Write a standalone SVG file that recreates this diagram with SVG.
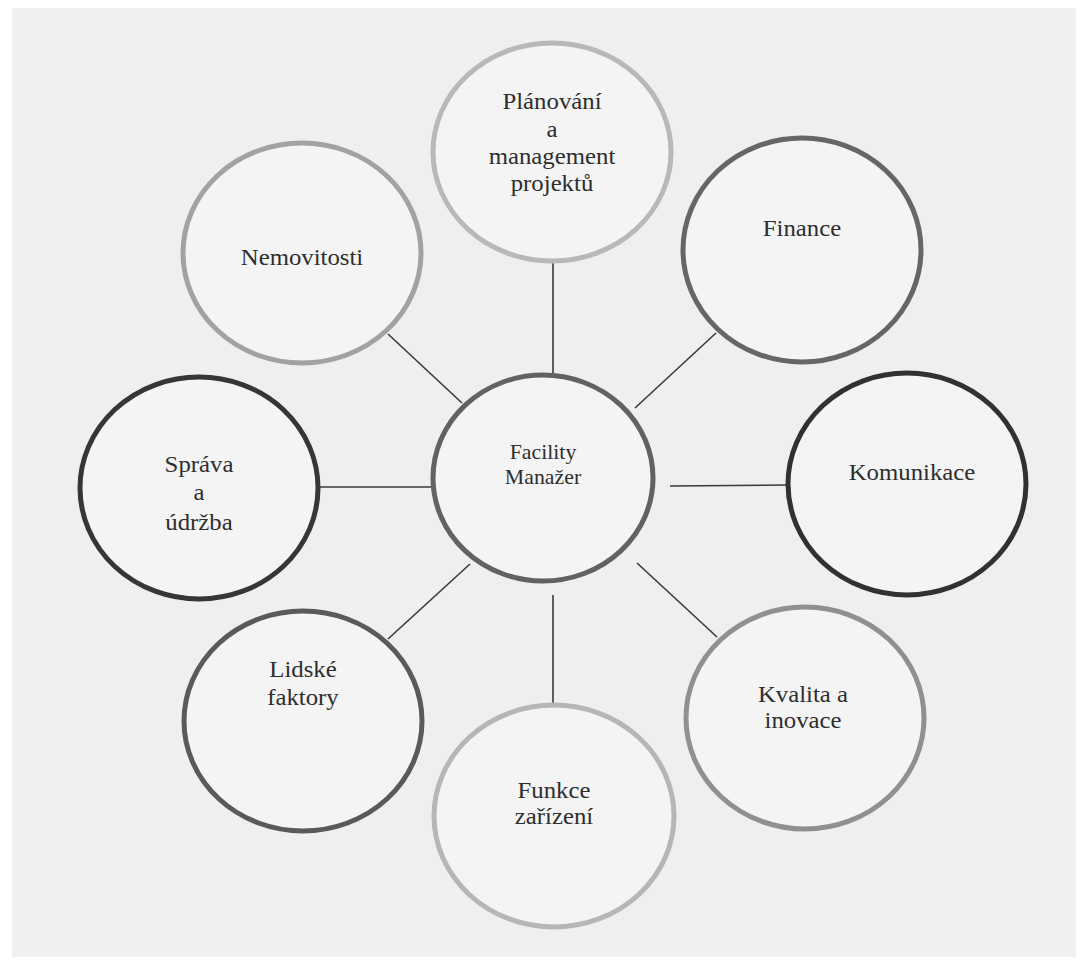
<svg xmlns="http://www.w3.org/2000/svg" width="1079" height="961" viewBox="0 0 1079 961">
<style>
.node ellipse{fill:#f4f4f5;stroke-width:5}
text{font-family:'Liberation Serif',serif;fill:#2e2e2e;text-anchor:middle;font-size:21px}
.conn line{stroke:#3a3a3a;stroke-width:1.6}
</style>
<rect x="0" y="0" width="1079" height="961" fill="#ffffff"/>
<rect x="12" y="8" width="1064" height="949" fill="#efeff1"/>
<g id="connectors" class="conn">
<line x1="553" y1="262" x2="553" y2="373"/>
<line x1="388" y1="334" x2="462" y2="403"/>
<line x1="716" y1="333" x2="635" y2="408"/>
<line x1="318" y1="487" x2="432" y2="487"/>
<line x1="670" y1="486" x2="787" y2="485"/>
<line x1="470" y1="564" x2="388" y2="639"/>
<line x1="553" y1="595" x2="553" y2="704"/>
<line x1="637" y1="563" x2="717" y2="637"/>
</g>
<g id="planovani" class="node">
<ellipse cx="552" cy="152" rx="119" ry="109" stroke="#b8b8b8" stroke-width="4.5"/>
<text transform="translate(552,109) scale(1.18,1.07)">Plánování</text>
<text transform="translate(552,137) scale(1.18,1.07)">a</text>
<text transform="translate(552,164) scale(1.18,1.07)">management</text>
<text transform="translate(552,191) scale(1.18,1.07)">projektů</text>
</g>
<g id="nemovitosti" class="node">
<ellipse cx="302" cy="253" rx="119" ry="110" stroke="#a2a2a2" stroke-width="4.5"/>
<text transform="translate(302,265) scale(1.18,1.07)">Nemovitosti</text>
</g>
<g id="finance" class="node">
<ellipse cx="802" cy="250" rx="119" ry="112" stroke="#666666"/>
<text transform="translate(802,236) scale(1.18,1.07)">Finance</text>
</g>
<g id="facility" class="node">
<ellipse cx="543" cy="478" rx="110" ry="103" stroke="#626262"/>
<text transform="translate(543,459) scale(1.04,1)">Facility</text>
<text transform="translate(543,484) scale(1.04,1)">Manažer</text>
</g>
<g id="sprava" class="node">
<ellipse cx="199" cy="488" rx="119" ry="111" stroke="#363636"/>
<text transform="translate(199,472) scale(1.18,1.07)">Správa</text>
<text transform="translate(199,500) scale(1.18,1.07)">a</text>
<text transform="translate(199,530) scale(1.18,1.07)">údržba</text>
</g>
<g id="komunikace" class="node">
<ellipse cx="907" cy="484" rx="119" ry="111" stroke="#313131"/>
<text transform="translate(912,480) scale(1.18,1.07)">Komunikace</text>
</g>
<g id="lidske" class="node">
<ellipse cx="303" cy="721" rx="119" ry="110" stroke="#5a5a5a"/>
<text transform="translate(303,677) scale(1.18,1.07)">Lidské</text>
<text transform="translate(303,705) scale(1.18,1.07)">faktory</text>
</g>
<g id="kvalita" class="node">
<ellipse cx="805" cy="718" rx="119" ry="111" stroke="#909090" stroke-width="4.5"/>
<text transform="translate(803,702) scale(1.18,1.07)">Kvalita a</text>
<text transform="translate(803,728) scale(1.18,1.07)">inovace</text>
</g>
<g id="funkce" class="node">
<ellipse cx="554" cy="816" rx="120" ry="111" stroke="#b6b6b6" stroke-width="4.5"/>
<text transform="translate(554,798) scale(1.18,1.07)">Funkce</text>
<text transform="translate(554,824) scale(1.18,1.07)">zařízení</text>
</g>
</svg>
